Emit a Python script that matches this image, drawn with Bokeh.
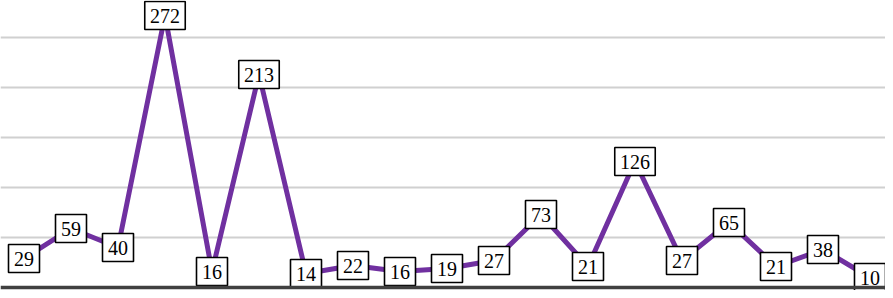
from bokeh.plotting import figure
from bokeh.models import ColumnDataSource, FixedTicker, Span, Range1d
from bokeh.core.properties import value
from bokeh.embed import file_html
from bokeh.resources import INLINE

values = [29, 59, 40, 272, 16, 213, 14, 22, 16, 19, 27, 73, 21, 126, 27, 65, 21, 38, 10]
positions = list(range(len(values)))
labels = [str(v) for v in values]
grid_ticks = [50, 100, 150, 200, 250]

box_w = [len(s) * 9.5 + 12 for s in labels]

src = ColumnDataSource(dict(x=positions, y=values, txt=labels, bw=box_w))

p = figure(width=885, height=290, output_backend="svg", toolbar_location=None,
           x_range=Range1d(-0.5, 18.33), y_range=Range1d(-3, 287),
           min_border=0, min_border_left=0, min_border_right=0,
           min_border_top=0, min_border_bottom=0)
p.outline_line_color = None
p.xaxis.visible = False
p.yaxis.visible = False
p.xgrid.grid_line_color = None
p.ygrid.ticker = FixedTicker(ticks=grid_ticks)
p.ygrid.grid_line_color = "#d0d0d0"
p.ygrid.grid_line_width = 2

base = Span(location=0, dimension="width", line_color="#404040", line_width=3.5)
p.add_layout(base)

p.line("x", "y", source=src, line_color="#7030A0", line_width=5, line_join="round")
p.rect("x", "y", width="bw", height=28, width_units="screen", height_units="screen",
       source=src, fill_color="white", line_color="black", line_width=1.6)
p.text("x", "y", text="txt", source=src, text_align="center", text_baseline="middle",
       text_font=value("Liberation Serif"), text_font_size="20px", text_color="black")

open("out.html", "w").write(file_html(p, INLINE))
